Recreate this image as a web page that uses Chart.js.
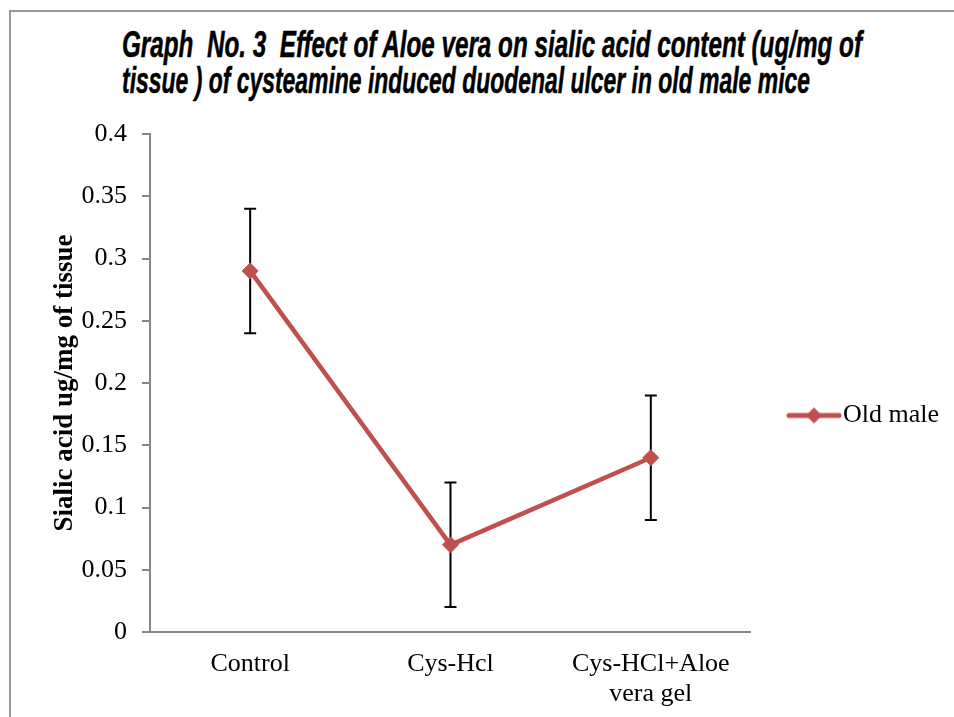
<!DOCTYPE html>
<html>
<head>
<meta charset="utf-8">
<script src="https://cdn.jsdelivr.net/npm/chart.js@4/dist/chart.umd.min.js"></script>
<style>
  html, body { margin: 0; padding: 0; background: #fff; width: 954px; height: 717px; overflow: hidden; }
  #frame { position: absolute; left: 9px; top: 10px; width: 1000px; height: 800px;
           border-left: 2px solid #999; border-top: 2px solid #999; }
  #wrap { position: absolute; left: 0; top: 0; width: 954px; height: 717px; }
  #title { position: absolute; left: 122px; top: 27px; font-family: "Liberation Sans Narrow", "Liberation Sans", Arial, sans-serif;
           font-weight: bold; font-style: italic; font-size: 36px; color: #000; white-space: pre; -webkit-text-stroke: 0.5px #000; }
  #title span { display: block; transform-origin: 0 50%; line-height: 36px; width: max-content; }
</style>
</head>
<body>
<div id="frame"></div>
<div id="title"><span id="t1">Graph  No. 3  Effect of Aloe vera on sialic acid content (ug/mg of</span><span id="t2">tissue ) of cysteamine induced duodenal ulcer in old male mice</span></div>
<div id="wrap"><canvas id="c" width="954" height="717"></canvas></div>
<script>
const categories = ['Control', 'Cys-Hcl', ['Cys-HCl+Aloe', 'vera gel']];
const seriesName = 'Old male';
const oldMaleValues = [0.29, 0.07, 0.14];
const oldMaleErrors = [0.05, 0.05, 0.05];
const yTicks = [0, 0.05, 0.1, 0.15, 0.2, 0.25, 0.3, 0.35, 0.4];

// fit title lines to the reference widths
(function(){
  const targets = {t1: 740, t2: 688};
  for (const id in targets) {
    const el = document.getElementById(id);
    const w = el.getBoundingClientRect().width;
    el.style.transform = 'scaleX(' + (targets[id] / w) + ')';
  }
})();

const RED = '#C0504D';
const serif = '"Liberation Serif", "Times New Roman", serif';

// legend symbol: line with diamond
const sym = document.createElement('canvas');
sym.width = 56; sym.height = 20;
(function(){
  const g = sym.getContext('2d');
  g.strokeStyle = RED; g.lineWidth = 5; g.lineCap = 'round';
  g.beginPath(); g.moveTo(3, 10); g.lineTo(53, 10); g.stroke();
  g.fillStyle = RED;
  g.beginPath(); g.moveTo(28, 2); g.lineTo(36, 10); g.lineTo(28, 18); g.lineTo(20, 10); g.closePath(); g.fill();
})();

const errorBars = {
  id: 'errorBars',
  beforeDatasetsDraw(chart) {
    const ctx = chart.ctx, y = chart.scales.y;
    const meta = chart.getDatasetMeta(0);
    ctx.save();
    ctx.strokeStyle = '#000'; ctx.lineWidth = 2;
    meta.data.forEach((pt, i) => {
      const v = oldMaleValues[i], e = oldMaleErrors[i];
      const yTop = y.getPixelForValue(v + e), yBot = y.getPixelForValue(v - e);
      const x = pt.x;
      ctx.beginPath();
      ctx.moveTo(x, yTop); ctx.lineTo(x, yBot);
      ctx.moveTo(x - 6, yTop); ctx.lineTo(x + 6, yTop);
      ctx.moveTo(x - 6, yBot); ctx.lineTo(x + 6, yBot);
      ctx.stroke();
    });
    ctx.restore();
  }
};

const legendShift = {
  id: 'legendShift',
  afterLayout(chart) {
    const lg = chart.legend;
    if (lg) { lg.top -= 10; lg.bottom -= 10; }
  }
};

new Chart(document.getElementById('c'), {
  type: 'line',
  data: {
    labels: categories,
    datasets: [{
      label: seriesName,
      data: oldMaleValues,
      borderColor: RED,
      backgroundColor: RED,
      borderWidth: 4.5,
      pointStyle: 'rectRot',
      pointRadius: 8,
      pointBorderWidth: 1,
      pointBackgroundColor: RED,
      pointBorderColor: RED,
      tension: 0
    }]
  },
  options: {
    responsive: false,
    animation: false,
    layout: { padding: { top: 134, left: 0, bottom: 0, right: 5 } },
    plugins: {
      title: { display: false },
      tooltip: { enabled: false },
      legend: {
        position: 'right',
        labels: {
          usePointStyle: true,
          pointStyleWidth: 32,
          padding: 47,
          color: '#000',
          font: { family: serif, size: 26 },
          generateLabels(chart) {
            const ds = chart.data.datasets[0];
            return [{ text: ds.label, pointStyle: sym, fillStyle: ds.backgroundColor, strokeStyle: ds.borderColor, lineWidth: 0, datasetIndex: 0, fontColor: '#000' }];
          }
        }
      }
    },
    scales: {
      x: {
        type: 'category',
        offset: true,
        afterFit(s) { s.height = 85; },
        grid: { display: true, drawOnChartArea: false, drawTicks: false, color: '#868686' },
        border: { display: true, color: '#868686', width: 2 },
        ticks: { color: '#000', padding: 18, maxRotation: 0, autoSkip: false, font: { family: serif, size: 26, lineHeight: 1.12 } }
      },
      y: {
        min: 0, max: 0.4,
        afterFit(s) { s.width = 150; },
        afterBuildTicks(s) { s.ticks = yTicks.map(v => ({ value: v })); },
        grid: { display: true, drawOnChartArea: false, drawTicks: true, tickLength: 8, color: '#868686', lineWidth: 2 },
        border: { display: true, color: '#868686', width: 2 },
        ticks: { color: '#000', padding: 15, font: { family: serif, size: 26 }, callback: v => String(v) },
        title: { display: true, text: 'Sialic acid ug/mg of tissue', color: '#000', padding: { top: 49, bottom: 0 },
                 font: { family: serif, size: 27, weight: 'bold' } }
      }
    }
  },
  plugins: [errorBars, legendShift]
});
</script>
</body>
</html>
